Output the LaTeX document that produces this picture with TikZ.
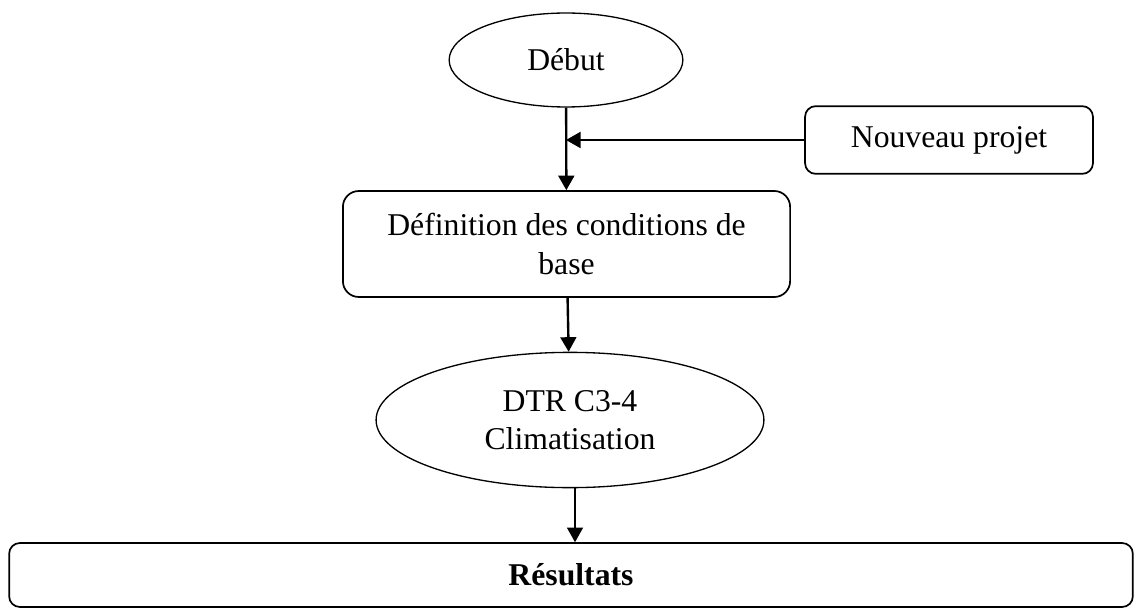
\documentclass[tikz,border=0pt]{standalone}
\usepackage{fontspec}
\setmainfont{Liberation Serif}
\usepackage{tikz}
\usetikzlibrary{positioning, arrows.meta, shapes.geometric, calc}

\begin{document}
\begin{tikzpicture}[
    x=0.0133cm, y=-0.0133cm,
    oval/.style={draw, ellipse, line width=0.5pt, inner sep=0pt,
                 align=center, font=\fontsize{12}{14.5}\selectfont},
    box/.style={draw, rectangle, line width=0.65pt, inner sep=0pt,
                align=center, font=\fontsize{12}{14.5}\selectfont},
    flow/.style={-{Triangle[length=5.5pt, width=6pt]}, line width=0.9pt},
]

% Frame
\useasboundingbox (0,0) rectangle (1138,611);

% Nodes top to bottom
\node[oval, minimum width=3.11cm, minimum height=1.25cm] (debut) at (566, 60)
  {Début};

\node[box, rounded corners=4pt, minimum width=3.83cm, minimum height=0.90cm]
  (projet) at (949, 140) {Nouveau projet};

\node[box, rounded corners=6pt, minimum width=5.95cm, minimum height=1.41cm]
  (cond) at (566.5, 244) {Définition des conditions de\\base};

\node[oval, minimum width=5.16cm, minimum height=1.80cm] (dtr) at (570, 420)
  {DTR C3-4\\Climatisation};

\node[box, rounded corners=4pt, minimum width=14.95cm, minimum height=0.85cm]
  (res) at (571, 575) {\bfseries Résultats};

% Arrows
\coordinate (join) at (debut.south |- projet.west);
\draw[flow] (debut) -- (cond);
\draw[flow] (projet.west) -- (join);
\draw[flow] (cond) -- (dtr);
\draw[flow, line width=0.6pt] (dtr.south -| 575, 0) -- (575, 0 |- res.north);

\end{tikzpicture}
\end{document}
